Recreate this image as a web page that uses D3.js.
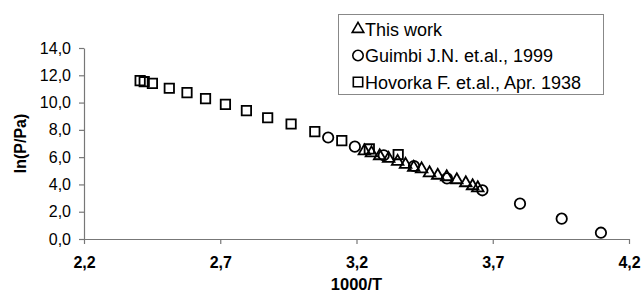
<!DOCTYPE html>
<html>
	<head>
		<meta charset="utf-8">
		<title>ln(P/Pa) vs 1000/T</title>
		<script src="https://cdn.jsdelivr.net/npm/d3@7"></script>
		<style>
			body { margin: 0; background: #fff; }
			text { font-family: "Liberation Sans", Arial, sans-serif; fill: #000; }
		</style>
	</head>
	<body>
		<div id="root"></div>
		<script>
			//this work (triangles)
			const thisWorkX = [3.229, 3.255, 3.285, 3.318, 3.351, 3.380, 3.410, 3.439, 3.468, 3.498, 3.531, 3.568, 3.601, 3.626, 3.645];
			const thisWorkY = [6.45, 6.30, 6.09, 5.90, 5.68, 5.46, 5.24, 5.13, 4.84, 4.66, 4.55, 4.33, 4.11, 3.89, 3.74];

			//Guimbi 1999 (circles)
			const guimbiX = [3.096, 3.194, 3.300, 3.411, 3.532, 3.662, 3.800, 3.953, 4.097];
			const guimbiY = [7.44, 6.77, 6.14, 5.35, 4.44, 3.57, 2.59, 1.49, 0.46];

			//Hovorka 1938 (squares)
			const hovorkaX = [2.406, 2.421, 2.451, 2.513, 2.578, 2.646, 2.719, 2.796, 2.874, 2.960, 3.047, 3.146, 3.247, 3.353];
			const hovorkaY = [11.61, 11.53, 11.41, 11.05, 10.73, 10.29, 9.87, 9.41, 8.89, 8.43, 7.87, 7.21, 6.60, 6.19];

			const xTicks = [2.2, 2.7, 3.2, 3.7, 4.2];
			const yTicks = [0, 2, 4, 6, 8, 10, 12, 14];
			const legendLabels = ["This work", "Guimbi J.N. et.al., 1999", "Hovorka F. et.al., Apr. 1938"];

			const width = 643;
			const height = 299;

			//plot area edges
			const plotLeft = 84, plotRight = 629, plotTop = 48, plotBottom = 239;

			const xScale = d3.scaleLinear().domain([2.2, 4.2]).range([plotLeft, plotRight]);
			const yScale = d3.scaleLinear().domain([0, 14]).range([plotBottom, plotTop]);

			const svg = d3.select("#root")
			.append("svg")
			.attr("width", width)
			.attr("height", height);

			const comma = (d) => d3.format(".1f")(d).replace(".", ",");

			//Y axis
			const yAxis = svg.append("g")
			.attr("transform", "translate(" + plotLeft + ",0)")
			.call(d3.axisLeft(yScale).tickValues(yTicks).tickFormat(comma).tickSize(5).tickSizeOuter(0));
			yAxis.select(".domain").attr("stroke", "#777").attr("stroke-width", 1.2);
			yAxis.selectAll(".tick line").attr("stroke", "#777").attr("stroke-width", 1.2);
			yAxis.selectAll(".tick text")
			.attr("x", -13)
			.attr("font-size", "16px")
			.attr("font-family", "Liberation Sans, Arial, sans-serif");

			//X axis
			const xAxis = svg.append("g")
			.attr("transform", "translate(0," + plotBottom + ")")
			.call(d3.axisBottom(xScale).tickValues(xTicks).tickFormat(comma).tickSize(5).tickSizeOuter(0));
			xAxis.select(".domain").attr("stroke", "#777").attr("stroke-width", 1.2);
			xAxis.selectAll(".tick line").attr("stroke", "#777").attr("stroke-width", 1.2);
			xAxis.selectAll(".tick text")
			.attr("y", 18)
			.attr("font-size", "16px")
			.attr("font-weight", "bold")
			.attr("font-family", "Liberation Sans, Arial, sans-serif");

			//axis titles
			svg.append("text")
			.attr("x", (plotLeft + plotRight) / 2)
			.attr("y", 290)
			.attr("text-anchor", "middle")
			.attr("font-size", "16.5px")
			.attr("font-weight", "bold")
			.text("1000/T");

			svg.append("text")
			.attr("transform", "translate(26," + ((plotTop + plotBottom) / 2) + ") rotate(-90)")
			.attr("text-anchor", "middle")
			.attr("font-size", "16px")
			.attr("font-weight", "bold")
			.text("ln(P/Pa)");

			//markers
			const sym = {
				tri: d3.symbol().type(d3.symbolTriangle).size(58),
				circ: d3.symbol().type(d3.symbolCircle).size(85),
				sq: d3.symbol().type(d3.symbolSquare).size(88)
			};

			function drawSeries(xs, ys, shape) {
				svg.append("g")
				.selectAll("path")
				.data(xs.map((x, i) => [x, ys[i]]))
				.enter()
				.append("path")
				.attr("transform", (d) => "translate(" + xScale(d[0]) + "," + yScale(d[1]) + ")")
				.attr("d", sym[shape])
				.attr("fill", "none")
				.attr("stroke", "#000")
				.attr("stroke-width", 1.8);
			}

			drawSeries(hovorkaX, hovorkaY, "sq");
			drawSeries(guimbiX, guimbiY, "circ");
			drawSeries(thisWorkX, thisWorkY, "tri");

			//legend
			const legend = svg.append("g");
			legend.append("rect")
			.attr("x", 338.5)
			.attr("y", 14.5)
			.attr("width", 265)
			.attr("height", 80)
			.attr("fill", "#fff")
			.attr("stroke", "#888")
			.attr("stroke-width", 1);

			const shapes = ["tri", "circ", "sq"];
			legendLabels.forEach((label, i) => {
				const cy = 29 + i * 26.5;
				legend.append("path")
				.attr("transform", "translate(" + 358 + "," + cy + ")")
				.attr("d", sym[shapes[i]])
				.attr("fill", "none")
				.attr("stroke", "#000")
				.attr("stroke-width", 1.6);
				legend.append("text")
				.attr("x", 365)
				.attr("y", cy + 6.5)
				.attr("font-size", "18px")
				.text(label);
			});
		</script>
	</body>
</html>
